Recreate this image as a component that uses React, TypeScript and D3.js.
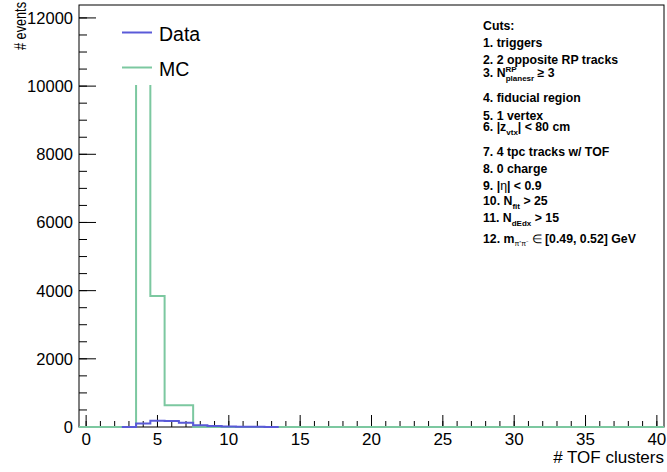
import React from "react";
import * as d3 from "d3";

// Bin centres (integer # TOF clusters), unit-width bins from -0.5 to 40.5
const binCenters: number[] = d3.range(0, 41);
// MC histogram (non-zero bins)
const mcBins: number[] = [4, 5, 6, 7];
const mcValues: number[] = [11790, 3840, 640, 640];
// Data histogram
const dataBins: number[] = [3, 4, 5, 6, 7, 8, 9, 10, 11, 12, 13];
const dataValues: number[] = [3, 100, 180, 175, 125, 55, 30, 15, 8, 4, 2];

const xTicks: number[] = [0, 5, 10, 15, 20, 25, 30, 35, 40];
const yTicks: number[] = [0, 2000, 4000, 6000, 8000, 10000, 12000];

const legendLabels: string[] = ["Data", "MC"];
const DATA_COLOR = "#5a5ad8";
const MC_COLOR = "#7cc8a0";

const W = 667, H = 472;
const L = 79, R = 664, T = 5, B = 427;

export default function App() {
  const x = d3.scaleLinear().domain([-0.5, 40.5]).range([L, R]);
  const yMax = 1.05 * (d3.max(mcValues) as number);
  const y = d3.scaleLinear().domain([0, yMax]).range([B, T]);

  const mcFull = binCenters.map((c) => {
    const i = mcBins.indexOf(c);
    return i >= 0 ? mcValues[i] : 0;
  });

  const stepPath = (centers: number[], vals: number[]) => {
    const pts: [number, number][] = centers.map((c, i) => [c - 0.5, vals[i]]);
    pts.push([centers[centers.length - 1] + 0.5, vals[vals.length - 1]]);
    return d3
      .line<[number, number]>()
      .x((d) => x(d[0]))
      .y((d) => y(d[1]))
      .curve(d3.curveStepAfter)(pts) as string;
  };

  const xMinor = d3.range(0, 41, 1);
  const yMinor = d3.range(0, yMax, 500);
  const font = "'Liberation Sans', Arial, sans-serif";

  const cutsX = 483;
  const fs = 12.3;
  const sub = 8;

  return (
    <svg
      width={W}
      height={H}
      style={{ position: "absolute", left: 0, top: 0, background: "#fff" }}
      fontFamily={font}
    >
      <rect x={0} y={0} width={W} height={H} fill="#fff" />
      {/* frame */}
      <rect x={L} y={T} width={R - L} height={B - T} fill="none" stroke="#000" strokeWidth={1} />
      {/* y ticks */}
      {yMinor.map((v) => (
        <line key={"ym" + v} x1={L} x2={L + 8} y1={y(v)} y2={y(v)} stroke="#000" />
      ))}
      {yTicks.map((v) => (
        <g key={"y" + v}>
          <line x1={L} x2={L + 17} y1={y(v)} y2={y(v)} stroke="#000" />
          <text x={73} y={y(v) + 6} textAnchor="end" fontSize={16.5}>
            {v}
          </text>
        </g>
      ))}
      {/* x ticks */}
      {xMinor.map((v) => (
        <line key={"xm" + v} x1={x(v)} x2={x(v)} y1={B} y2={B - 6} stroke="#000" />
      ))}
      {xTicks.map((v) => (
        <g key={"x" + v}>
          <line x1={x(v)} x2={x(v)} y1={B} y2={B - 12} stroke="#000" />
          <text x={x(v)} y={445} textAnchor="middle" fontSize={17}>
            {v}
          </text>
        </g>
      ))}
      {/* axis titles */}
      <text x={R} y={463} textAnchor="end" fontSize={17}>
        # TOF clusters
      </text>
      <text
        transform={`translate(26,50) rotate(-90)`}
        textAnchor="start"
        fontSize={16}
        textLength={48}
        lengthAdjust="spacingAndGlyphs"
      >
        # events
      </text>

      {/* histograms */}
      <path d={stepPath(binCenters, mcFull)} fill="none" stroke={MC_COLOR} strokeWidth={2} />
      <path d={stepPath(dataBins, dataValues)} fill="none" stroke={DATA_COLOR} strokeWidth={2} />

      {/* legend */}
      <rect x={105} y={18} width={145} height={67} fill="#fff" />
      {legendLabels.map((lab, i) => (
        <g key={lab}>
          <line
            x1={122}
            x2={152}
            y1={32.5 + i * 35}
            y2={32.5 + i * 35}
            stroke={i === 0 ? DATA_COLOR : MC_COLOR}
            strokeWidth={2}
          />
          <text x={159} y={40.5 + i * 35} fontSize={19.5}>
            {lab}
          </text>
        </g>
      ))}

      {/* cuts */}
      <g fontWeight="bold" fontSize={fs}>
        <text x={cutsX} y={29.5}>Cuts:</text>
        <text x={cutsX} y={46.5}>1. triggers</text>
        <text x={cutsX} y={63.5}>2. 2 opposite RP tracks</text>
        <text x={cutsX} y={76.5}>
          3. N
          <tspan fontSize={sub} dy={-5}>RP</tspan>
          <tspan fontSize={sub} dx={-11} dy={9}>planesr</tspan>
          <tspan dy={-4}> ≥ 3</tspan>
        </text>
        <text x={cutsX} y={101.5}>4. fiducial region</text>
        <text x={cutsX} y={119.5}>5. 1 vertex</text>
        <text x={cutsX} y={130.5}>
          6. |z
          <tspan fontSize={sub} dy={4}>vtx</tspan>
          <tspan dy={-4}>| &lt; 80 cm</tspan>
        </text>
        <text x={cutsX} y={155.5}>7. 4 tpc tracks w/ TOF</text>
        <text x={cutsX} y={172.5}>8. 0 charge</text>
        <text x={cutsX} y={190}>
          9. |<tspan fontWeight="normal">η</tspan>| &lt; 0.9
        </text>
        <text x={cutsX} y={205}>
          10. N
          <tspan fontSize={sub} dy={4}>fit</tspan>
          <tspan dy={-4}> &gt; 25</tspan>
        </text>
        <text x={cutsX} y={222}>
          11. N
          <tspan fontSize={sub} dy={4}>dEdx</tspan>
          <tspan dy={-4}> &gt; 15</tspan>
        </text>
        <text x={cutsX} y={243}>
          12. m
          <tspan fontSize={7} fontWeight="normal" dy={3}>π⁺π⁻</tspan>
          <tspan dy={-3} fontWeight="normal"> ∈ </tspan>
          <tspan>[0.49, 0.52] GeV</tspan>
        </text>
      </g>
    </svg>
  );
}
